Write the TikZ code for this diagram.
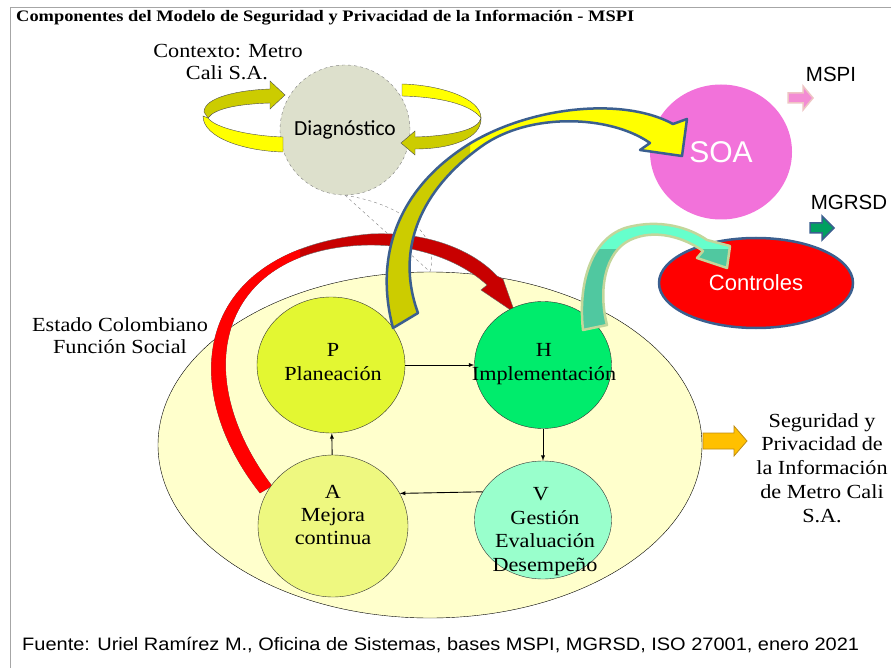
\documentclass[tikz,border=0pt]{standalone}
\usepackage{fontspec}
\setmainfont{Liberation Serif}
\newfontfamily\arialfont{Liberation Sans}
\newfontfamily\calibrifont{Carlito}
\usepackage{xcolor}
\definecolor{diaggray}{RGB}{221,224,204}
\definecolor{loopyellow}{RGB}{255,255,0}
\definecolor{loopolive}{RGB}{204,204,0}
\definecolor{paleyellow}{RGB}{255,255,204}
\definecolor{pyellow}{RGB}{227,247,50}
\definecolor{hgreen}{RGB}{0,236,108}
\definecolor{ayellow}{RGB}{238,248,128}
\definecolor{vmint}{RGB}{153,255,204}
\definecolor{soapink}{RGB}{242,114,218}
\definecolor{ctrlblue}{RGB}{59,95,143}
\definecolor{darkred}{RGB}{200,0,0}
\definecolor{tealdark}{RGB}{80,200,160}
\definecolor{teallight}{RGB}{102,255,204}
\definecolor{tealborder}{RGB}{195,214,155}
\definecolor{arrowpink}{RGB}{243,140,212}
\definecolor{pinkborder}{RGB}{238,196,196}
\definecolor{mgreen}{RGB}{0,160,96}
\definecolor{orangefill}{RGB}{255,192,0}
\definecolor{orangeborder}{RGB}{190,140,20}
\usetikzlibrary{arrows,shapes.geometric,positioning}
\tikzset{
	thick,
	>=latex,
	pdca/.style = {ellipse, draw=black!80, thin},
	link/.style = {->, line width=0.9pt},
	txt/.style = {font=\fontsize{20}{24}\selectfont, xscale=1.11, inner sep=0pt,
			text height=13.5pt, text depth=0pt},
	sanstxt/.style = {font=\arialfont\fontsize{20.5}{24}\selectfont},
	loopband/.style = {draw=black!70, line width=0.4pt},
}
% curved block arrows
\newcommand\soapath{(393,328) .. controls (375,260) and (395,195) .. (460,150)
	.. controls (520,108) and (620,95) .. (673,124) -- (687,119) -- (682,156)
	-- (640,150) -- (650,143) .. controls (610,115) and (530,112) .. (482,146)
	.. controls (420,190) and (395,250) .. (418,313) -- cycle}
\newcommand\redpath{(260,493) .. controls (175,385) and (195,250) .. (370,234)
	.. controls (430,231) and (475,252) .. (497,276) -- (503,279) -- (515,313)
	-- (481,290) -- (487,285) .. controls (462,262) and (420,245) .. (370,245)
	.. controls (220,247) and (186,372) .. (272,486) -- cycle}
\newcommand\mintpath{(583,330) .. controls (578,285) and (590,240) .. (625,228)
	.. controls (660,218) and (690,228) .. (707,240) -- (730,246) -- (727,268)
	-- (697,258) -- (703,251) .. controls (685,238) and (655,228) .. (630,240)
	.. controls (605,252) and (598,290) .. (607,325) -- cycle}

\begin{document}
\begin{tikzpicture}[x=1pt,y=-1pt]
	\useasboundingbox (0,0) rectangle (891,668);
	\draw[gray!70] (10,668) -- (10,7) -- (891,7);
	\node[anchor=west, inner sep=0pt, xscale=1.15, font=\bfseries\fontsize{16}{18}\selectfont] (title) at (16,18) {Componentes del Modelo de Seguridad y Privacidad de la Información - MSPI};

	% estado y diagnostico
	\node[ellipse, draw, thin, fill=paleyellow, minimum width=544pt, minimum height=346pt] (estado) at (430,445) {};
	\node[circle, draw=gray, dashed, thin, fill=diaggray, minimum size=130pt, font=\calibrifont\fontsize{21.5}{24}\selectfont] (diag) at (345,130) {Diagnóstico};
	\draw[dashed, gray, thin] (diag.south) -- (estado.north);
	\draw[dashed, gray, thin] (diag.south) .. controls (405,205) and (440,235) .. (estado.north);
	\node[txt] at (228,51) (c1) {Contexto: Metro};
	\node[txt] at (227,73) (c2) {Cali S.A.};
	\node[txt] at (120,325) (e1) {Estado Colombiano};
	\node[txt] at (120,347) (e2) {Función Social};

	% red arrow
	\filldraw[fill=darkred, draw=black!60, line width=0.4pt] \redpath;
	\begin{scope}
		\clip (0,240) rectangle (300,520);
		\fill[red] \redpath;
	\end{scope}

	% PDCA
	\node[pdca, fill=pyellow, minimum width=148pt, minimum height=136pt] (P) at (331,365) {};
	\node[pdca, fill=hgreen, minimum width=137pt, minimum height=127pt] (H) at (543,365) {};
	\node[pdca, fill=ayellow, minimum width=150pt, minimum height=142pt] (A) at (333,526) {};
	\node[pdca, fill=vmint, minimum width=137pt, minimum height=118pt] (V) at (543,520) {};
	\node[txt] at (333,350) (p1) {P};
	\node[txt] at (333,374) (p2) {Planeación};
	\node[txt] at (544,350) (h1) {H};
	\node[txt] at (544,374) (h2) {Implementación};
	\node[txt] at (333,492) (a1) {A};
	\node[txt] at (333,515) (a2) {Mejora};
	\node[txt] at (333,538) (a3) {continua};
	\node[txt] at (541,494) (v1) {V};
	\node[txt] at (545,518) (v2) {Gestión};
	\node[txt] at (545,541) (v3) {Evaluación};
	\node[txt] at (545,565) (v4) {Desempeño};
	\draw[link] (P) -- (H);
	\draw[link] (H) -- (V);
	\draw[link] (V.155) -- (A.26);
	\draw[link] (A) -- (P);

	% loops around diagnostico
	\filldraw[loopband, fill=loopolive] (204,112) .. controls (204,97) and (240,90) .. (270,89) -- (270,81) -- (285,95) -- (270,109) -- (270,103) .. controls (240,104) and (215,108) .. (208,118) -- cycle;
	\filldraw[loopband, fill=loopyellow] (208,118) .. controls (215,128) and (250,136) .. (283,137) -- (283,152) .. controls (245,151) and (203,138) .. (203,116) -- cycle;
	\filldraw[loopband, fill=loopyellow] (402,84) .. controls (440,85) and (481,98) .. (481,118) .. controls (470,104) and (440,97) .. (402,96) -- cycle;
	\filldraw[loopband, fill=loopolive] (481,118) .. controls (479,130) and (450,136) .. (415,137) -- (415,131) -- (401,143) -- (415,155) -- (415,149) .. controls (452,149) and (482,138) .. (481,118) -- cycle;

	% SOA y controles
	\node[ellipse, fill=soapink, minimum width=142pt, minimum height=135pt, text=white, font=\arialfont\fontsize{30}{32}\selectfont] (soa) at (721,152) {SOA};
	\node[ellipse, fill=red, draw=ctrlblue, line width=2.5pt, minimum width=194pt, minimum height=90pt, text=white, font=\arialfont\fontsize{22}{24}\selectfont] (ctrl) at (756,283) {Controles};
	\fill[loopyellow] \soapath;
	\begin{scope}
		\clip (0,140) rectangle (470,400);
		\fill[loopolive] \soapath;
	\end{scope}
	\draw[ctrlblue, line width=2.5pt, line join=round] \soapath;
	\fill[teallight] \mintpath;
	\begin{scope}
		\clip (0,250) rectangle (891,400);
		\fill[tealdark] \mintpath;
	\end{scope}
	\draw[tealborder, line width=2.5pt, line join=round] \mintpath;

	\node[sanstxt] at (831,74) (m1) {MSPI};
	\node[sanstxt] at (849,202) (m2) {MGRSD};
	\filldraw[fill=arrowpink, draw=pinkborder, line width=1.5pt] (788,93) -- (803,93) -- (803,86) -- (813,98) -- (803,110) -- (803,103) -- (788,103) -- cycle;
	\filldraw[fill=mgreen, draw=ctrlblue, line width=1.5pt] (810,223) -- (822,223) -- (822,216) -- (834,228) -- (822,240) -- (822,233) -- (810,233) -- cycle;
	\filldraw[fill=orangefill, draw=orangeborder, line width=0.8pt] (703,433) -- (734,433) -- (734,426) -- (747,441) -- (734,456) -- (734,449) -- (703,449) -- cycle;

	\node[txt] at (822,421) (s1) {Seguridad y};
	\node[txt] at (822,444) (s2) {Privacidad de};
	\node[txt] at (822,468) (s3) {la Información};
	\node[txt] at (822,492) (s4) {de Metro Cali};
	\node[txt] at (822,516) (s5) {S.A.};

	\node[anchor=west, inner sep=0pt, xscale=1.11, font=\arialfont\fontsize{18}{20}\selectfont] (fuente) at (22,645) {Fuente: Uriel Ramírez M., Oficina de Sistemas, bases MSPI, MGRSD, ISO 27001, enero 2021};
\end{tikzpicture}
\end{document}
